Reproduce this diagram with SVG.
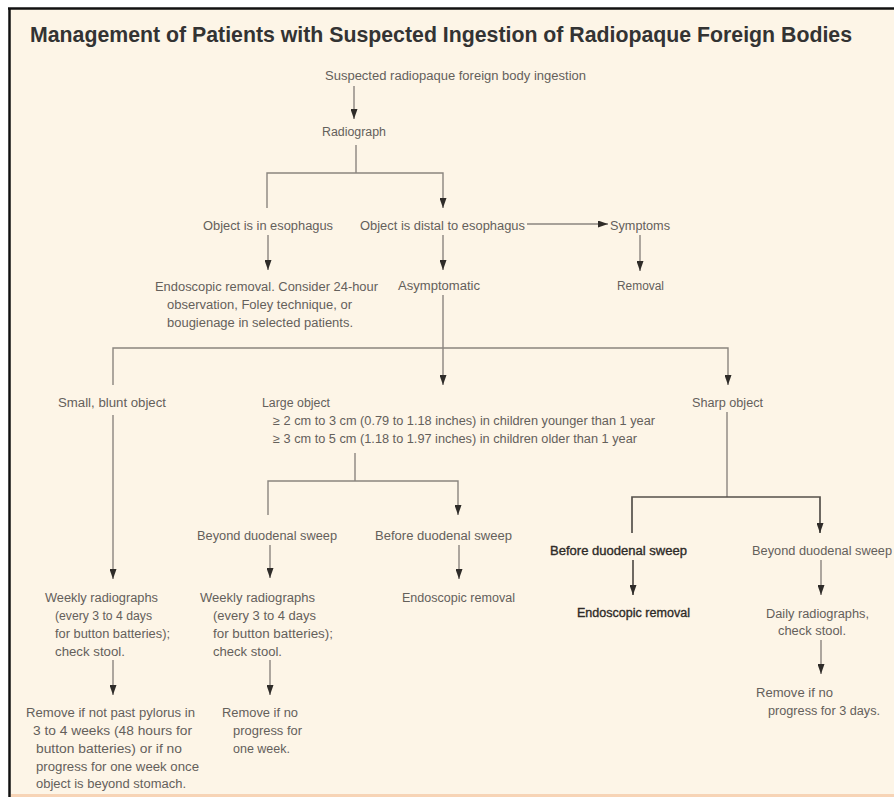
<svg xmlns="http://www.w3.org/2000/svg" width="894" height="797" viewBox="0 0 894 797">
<defs>
<style>
.t{font-family:"Liberation Sans",Arial,sans-serif;font-size:12.5px;fill:#64605b}
.b{font-family:"Liberation Sans",Arial,sans-serif;font-size:12.5px;fill:#2e2b28;stroke:#2e2b28;stroke-width:0.35}
.title{font-family:"Liberation Sans",Arial,sans-serif;font-size:22px;font-weight:bold;fill:#333}
.c line,.c polyline{stroke:#8a857f;stroke-width:1.4;fill:none}
.c .a{marker-end:url(#ah)}
.c .d{stroke:#55504b;stroke-width:1.7}
</style>
<marker id="ah" viewBox="0 0 10 7" refX="10" refY="3.5" markerWidth="10" markerHeight="7" markerUnits="userSpaceOnUse" orient="auto">
<path d="M0,0 L10,3.5 L0,7 z" fill="#2f2c29"/>
</marker>
</defs>
<rect x="0" y="0" width="894" height="797" fill="#ffffff"/>
<rect x="9" y="9" width="885" height="788" fill="#fdf5e7"/>
<line x1="8" y1="8.5" x2="894" y2="8.5" stroke="#111" stroke-width="2.5"/>
<line x1="9.5" y1="8" x2="9.5" y2="797" stroke="#111" stroke-width="2.5"/>
<rect x="11" y="794" width="883" height="3" fill="#f7d4b6"/>

<g id="title"><text class="title" x="30" y="42" textLength="822" lengthAdjust="spacingAndGlyphs">Management of Patients with Suspected Ingestion of Radiopaque Foreign Bodies</text></g>

<g class="c" id="connectors">
<line class="a" x1="354" y1="86" x2="354" y2="119"/>
<polyline points="356,145 356,173"/>
<polyline points="267,208 267,173 443,173 443,208" class="a"/>
<line class="a" x1="268" y1="235" x2="268" y2="270"/>
<line class="a" x1="443" y1="235" x2="443" y2="270"/>
<line class="a" x1="527" y1="224" x2="608" y2="224"/>
<line class="a" x1="640" y1="235" x2="640" y2="271"/>
<line class="a" x1="443" y1="295" x2="443" y2="385"/>
<polyline points="113,385 113,348 728,348 728,385" class="a"/>
<line class="a" x1="113" y1="415" x2="113" y2="579"/>
<polyline points="355,453 355,481"/>
<polyline points="268,515 268,481 458,481 458,515" class="a"/>
<line class="a" x1="270" y1="545" x2="270" y2="578"/>
<line class="a" x1="459" y1="545" x2="459" y2="579"/>
<polyline points="727,412 727,497"/>
<polyline class="a d" points="632,533 632,497 820,497 820,533"/>
<line class="a d" x1="633" y1="560" x2="633" y2="595"/>
<line class="a" x1="821" y1="560" x2="821" y2="595"/>
<line class="a" x1="821" y1="640" x2="821" y2="674"/>
<line class="a" x1="113" y1="660" x2="113" y2="695"/>
<line class="a" x1="270" y1="660" x2="270" y2="695"/>
</g>

<g id="n-suspected"><text class="t" x="325" y="79.5" textLength="261" lengthAdjust="spacingAndGlyphs">Suspected radiopaque foreign body ingestion</text></g>
<g id="n-radiograph"><text class="t" x="322" y="135.5" textLength="64" lengthAdjust="spacingAndGlyphs">Radiograph</text></g>
<g id="n-in-esophagus"><text class="t" x="203" y="229.5" textLength="130" lengthAdjust="spacingAndGlyphs">Object is in esophagus</text></g>
<g id="n-distal"><text class="t" x="360" y="229.5" textLength="165" lengthAdjust="spacingAndGlyphs">Object is distal to esophagus</text></g>
<g id="n-symptoms"><text class="t" x="610" y="229.5" textLength="60" lengthAdjust="spacingAndGlyphs">Symptoms</text></g>
<g id="n-removal"><text class="t" x="617" y="289.5" textLength="47" lengthAdjust="spacingAndGlyphs">Removal</text></g>
<g id="n-asymptomatic"><text class="t" x="398" y="289.5" textLength="82" lengthAdjust="spacingAndGlyphs">Asymptomatic</text></g>
<g id="n-endo-esoph">
<text class="t" x="155" y="290.5" textLength="223" lengthAdjust="spacingAndGlyphs">Endoscopic removal. Consider 24-hour</text>
<text class="t" x="167" y="308.5" textLength="185" lengthAdjust="spacingAndGlyphs">observation, Foley technique, or</text>
<text class="t" x="167" y="326.5" textLength="186" lengthAdjust="spacingAndGlyphs">bougienage in selected patients.</text>
</g>
<g id="n-small"><text class="t" x="58" y="406.5" textLength="108" lengthAdjust="spacingAndGlyphs">Small, blunt object</text></g>
<g id="n-large">
<text class="t" x="262" y="406.5" textLength="68" lengthAdjust="spacingAndGlyphs">Large object</text>
<text class="t" x="273" y="424.5" textLength="382" lengthAdjust="spacingAndGlyphs">≥ 2 cm to 3 cm (0.79 to 1.18 inches) in children younger than 1 year</text>
<text class="t" x="273" y="442.5" textLength="364" lengthAdjust="spacingAndGlyphs">≥ 3 cm to 5 cm (1.18 to 1.97 inches) in children older than 1 year</text>
</g>
<g id="n-sharp"><text class="t" x="692" y="406.5" textLength="71" lengthAdjust="spacingAndGlyphs">Sharp object</text></g>
<g id="n-large-beyond"><text class="t" x="197" y="539.5" textLength="140" lengthAdjust="spacingAndGlyphs">Beyond duodenal sweep</text></g>
<g id="n-large-before"><text class="t" x="375" y="539.5" textLength="137" lengthAdjust="spacingAndGlyphs">Before duodenal sweep</text></g>
<g id="n-large-endo"><text class="t" x="402" y="601.5" textLength="113" lengthAdjust="spacingAndGlyphs">Endoscopic removal</text></g>
<g id="n-sharp-before"><text class="b" x="550" y="554.5" textLength="137" lengthAdjust="spacingAndGlyphs">Before duodenal sweep</text></g>
<g id="n-sharp-endo"><text class="b" x="577" y="616.5" textLength="113" lengthAdjust="spacingAndGlyphs">Endoscopic removal</text></g>
<g id="n-sharp-beyond"><text class="t" x="752" y="554.5" textLength="140" lengthAdjust="spacingAndGlyphs">Beyond duodenal sweep</text></g>
<g id="n-daily">
<text class="t" x="766" y="617.5" textLength="103" lengthAdjust="spacingAndGlyphs">Daily radiographs,</text>
<text class="t" x="778" y="634.5" textLength="68" lengthAdjust="spacingAndGlyphs">check stool.</text>
</g>
<g id="n-remove-3days">
<text class="t" x="756" y="696.5" textLength="77" lengthAdjust="spacingAndGlyphs">Remove if no</text>
<text class="t" x="768" y="714.5" textLength="112" lengthAdjust="spacingAndGlyphs">progress for 3 days.</text>
</g>
<g id="n-weekly-small">
<text class="t" x="45" y="601.5" textLength="113" lengthAdjust="spacingAndGlyphs">Weekly radiographs</text>
<text class="t" x="55" y="619.5" textLength="97" lengthAdjust="spacingAndGlyphs">(every 3 to 4 days</text>
<text class="t" x="55" y="637.5" textLength="115" lengthAdjust="spacingAndGlyphs">for button batteries);</text>
<text class="t" x="55" y="655.5" textLength="70" lengthAdjust="spacingAndGlyphs">check stool.</text>
</g>
<g id="n-remove-small">
<text class="t" x="26" y="716.5" textLength="169" lengthAdjust="spacingAndGlyphs">Remove if not past pylorus in</text>
<text class="t" x="33" y="734.5" textLength="159" lengthAdjust="spacingAndGlyphs">3 to 4 weeks (48 hours for</text>
<text class="t" x="36" y="752.5" textLength="146" lengthAdjust="spacingAndGlyphs">button batteries) or if no</text>
<text class="t" x="36" y="770.5" textLength="163" lengthAdjust="spacingAndGlyphs">progress for one week once</text>
<text class="t" x="36" y="787.5" textLength="150" lengthAdjust="spacingAndGlyphs">object is beyond stomach.</text>
</g>
<g id="n-weekly-large">
<text class="t" x="200" y="601.5" textLength="115" lengthAdjust="spacingAndGlyphs">Weekly radiographs</text>
<text class="t" x="213" y="619.5" textLength="103" lengthAdjust="spacingAndGlyphs">(every 3 to 4 days</text>
<text class="t" x="213" y="637.5" textLength="120" lengthAdjust="spacingAndGlyphs">for button batteries);</text>
<text class="t" x="213" y="655.5" textLength="69" lengthAdjust="spacingAndGlyphs">check stool.</text>
</g>
<g id="n-remove-large">
<text class="t" x="222" y="716.5" textLength="76" lengthAdjust="spacingAndGlyphs">Remove if no</text>
<text class="t" x="233" y="734.5" textLength="69" lengthAdjust="spacingAndGlyphs">progress for</text>
<text class="t" x="233" y="752.5">one week.</text>
</g>
</svg>
